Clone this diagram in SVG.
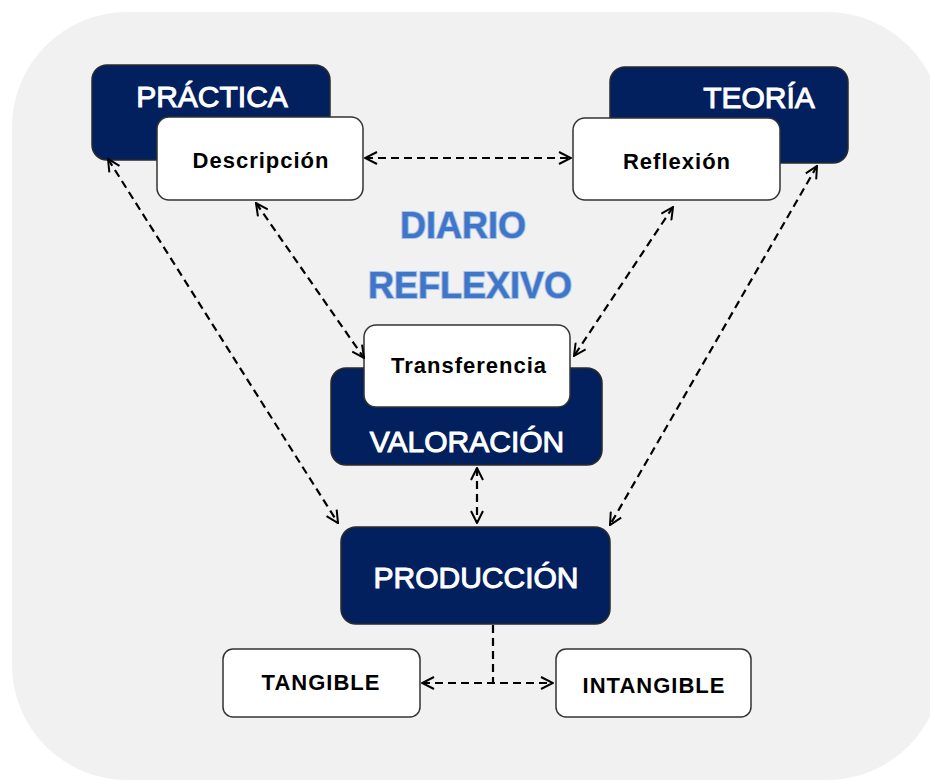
<svg xmlns="http://www.w3.org/2000/svg" width="930" height="783" viewBox="0 0 930 783">
<defs>
<marker id="ah" viewBox="0 0 14 14" refX="13" refY="7" markerWidth="14" markerHeight="14" markerUnits="userSpaceOnUse" orient="auto-start-reverse">
<path d="M1,1 L13,7 L1,13" fill="none" stroke="#000" stroke-width="2"/>
</marker>
</defs>
<style>
.dark{fill:#03205e;stroke:#2a2a2a;stroke-width:1.5}
.white{fill:#fff;stroke:#333;stroke-width:1.5}
.dt{font-family:"Liberation Sans",Arial,sans-serif;font-size:30px;fill:#fff;stroke:#fff;stroke-width:1;text-anchor:middle}
.wt{font-family:"Liberation Sans",Arial,sans-serif;font-size:22px;font-weight:bold;fill:#000;letter-spacing:1px;text-anchor:middle}
.ti{font-family:"Liberation Sans",Arial,sans-serif;font-size:36px;font-weight:bold;fill:#3f76c8;stroke:#a9c4ea;stroke-width:2;paint-order:stroke;text-anchor:middle}
.con{fill:none;stroke:#000;stroke-width:2.2;stroke-dasharray:8 5}
</style>
<rect x="12" y="12" width="930" height="768" rx="115" ry="115" fill="#f1f1f1"/>
<g id="title">
<text class="ti" x="463" y="238">DIARIO</text>
<text class="ti" x="470" y="298">REFLEXIVO</text>
</g>
<g id="practica">
<rect class="dark" x="92" y="65" width="238" height="95" rx="15"/>
<text class="dt" x="212" y="107">PRÁCTICA</text>
</g>
<g id="descripcion">
<rect class="white" x="157" y="117" width="206" height="83" rx="12"/>
<text class="wt" x="261" y="168">Descripción</text>
</g>
<g id="teoria">
<rect class="dark" x="610" y="67" width="238" height="96" rx="15"/>
<text class="dt" x="759" y="108">TEORÍA</text>
</g>
<g id="reflexion">
<rect class="white" x="573" y="118" width="207" height="82" rx="12"/>
<text class="wt" x="677" y="169">Reflexión</text>
</g>
<g id="valoracion">
<rect class="dark" x="331" y="368" width="271" height="97" rx="15"/>
<text class="dt" x="467" y="452">VALORACIÓN</text>
</g>
<g id="transferencia">
<rect class="white" x="364" y="325" width="206" height="82" rx="12"/>
<text class="wt" x="469" y="373">Transferencia</text>
</g>
<g id="produccion">
<rect class="dark" x="341" y="527" width="269" height="97" rx="15"/>
<text class="dt" x="476" y="588">PRODUCCIÓN</text>
</g>
<g id="tangible">
<rect class="white" x="223" y="649" width="197" height="68" rx="10"/>
<text class="wt" x="321" y="690">TANGIBLE</text>
</g>
<g id="intangible">
<rect class="white" x="556" y="649" width="195" height="68" rx="10"/>
<text class="wt" x="654" y="693">INTANGIBLE</text>
</g>
<g id="connectors">
<line class="con" x1="365" y1="158" x2="571" y2="158" marker-start="url(#ah)" marker-end="url(#ah)"/>
<line class="con" x1="108" y1="159" x2="338" y2="523" marker-start="url(#ah)" marker-end="url(#ah)"/>
<line class="con" x1="256" y1="203" x2="364" y2="358" marker-start="url(#ah)" marker-end="url(#ah)"/>
<line class="con" x1="673" y1="207" x2="574" y2="356" marker-start="url(#ah)" marker-end="url(#ah)"/>
<line class="con" x1="817" y1="166" x2="610" y2="525" marker-start="url(#ah)" marker-end="url(#ah)"/>
<line class="con" x1="477" y1="468" x2="477" y2="523" marker-start="url(#ah)" marker-end="url(#ah)"/>
<line class="con" x1="493" y1="625" x2="493" y2="683"/>
<line class="con" x1="422" y1="683" x2="553" y2="683" marker-start="url(#ah)" marker-end="url(#ah)"/>
</g>
</svg>
